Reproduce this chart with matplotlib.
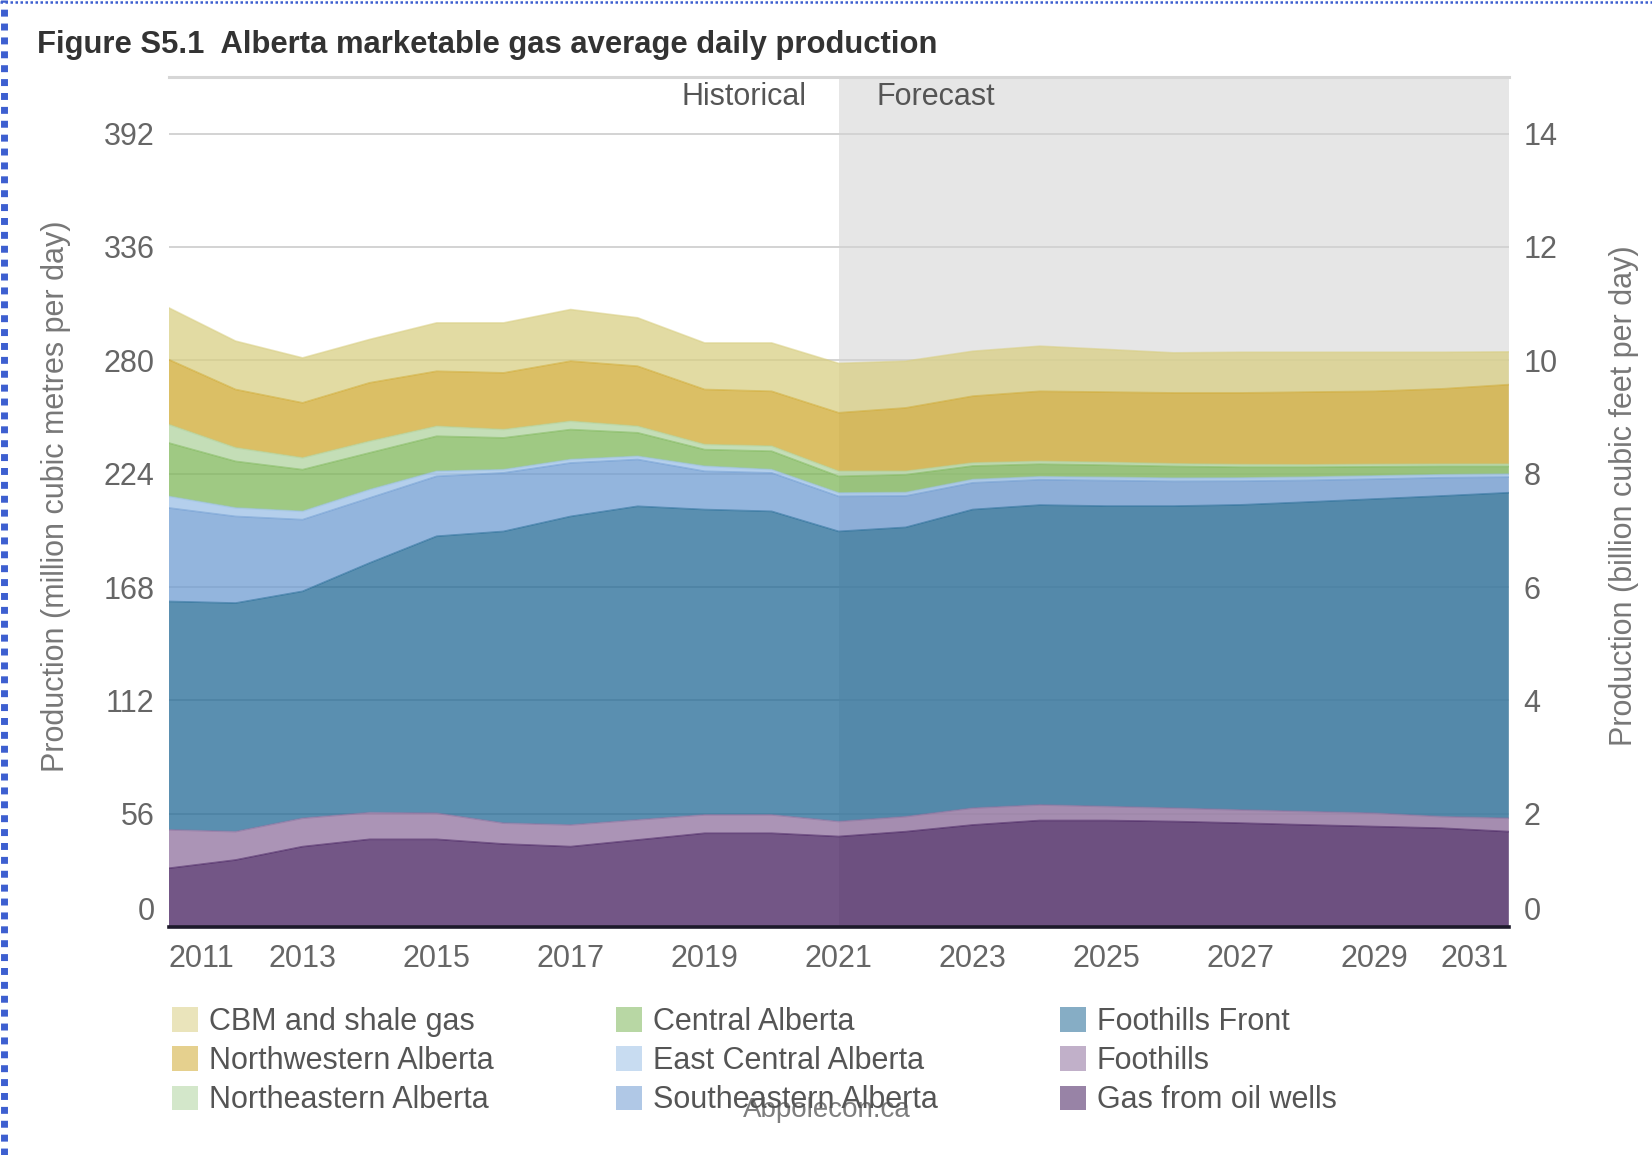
import matplotlib
matplotlib.use("Agg")
import matplotlib.pyplot as plt
import matplotlib.transforms as mtransforms
from matplotlib.lines import Line2D
from matplotlib.patches import Patch
import numpy as np

plt.rcParams['font.family'] = ['Liberation Sans', 'DejaVu Sans']

# ---------------- data (million m3/day) ----------------
years = list(range(2011, 2032))
forecast_start = 2021

gas_from_oil_wells = [29.1, 33.2, 39.8, 43.4, 43.4, 41.1, 39.8, 43.1, 46.4, 46.4, 44.8,
                      47.2, 50.5, 52.7, 52.7, 52.2, 51.4, 50.5, 49.7, 48.9, 47.2]
foothills = [19.0, 14.0, 14.0, 13.2, 12.9, 10.3, 10.7, 9.9, 9.1, 9.1, 7.4,
             7.4, 8.3, 7.7, 6.9, 6.6, 6.5, 6.6, 6.6, 5.7, 6.6]
foothills_front = [112.8, 112.9, 112.1, 123.3, 136.8, 144.1, 152.4, 154.9, 150.8, 149.9, 143.3,
                   142.9, 147.5, 148.1, 148.4, 149.2, 150.7, 152.9, 155.2, 158.4, 160.8]
southeastern = [46.2, 42.8, 35.4, 32.1, 29.6, 28.9, 26.4, 23.1, 18.9, 19.0, 17.3,
                15.5, 13.2, 12.5, 12.6, 12.2, 11.7, 10.7, 9.8, 9.0, 7.7]
east_central = [5.7, 4.2, 4.1, 4.1, 2.5, 1.6, 1.7, 1.6, 2.5, 1.6, 1.7,
                1.7, 1.6, 1.5, 1.6, 1.6, 1.6, 1.6, 1.6, 1.5, 1.5]
central = [26.4, 23.0, 20.6, 18.2, 17.3, 15.7, 14.8, 11.6, 8.2, 9.1, 8.2,
           8.8, 6.7, 6.2, 6.0, 5.8, 5.3, 4.9, 4.5, 4.1, 3.8]
northeastern = [9.1, 6.7, 5.8, 5.7, 4.9, 4.1, 4.1, 3.2, 2.5, 2.5, 2.5,
                1.7, 1.5, 1.4, 1.4, 1.3, 1.3, 1.2, 1.2, 1.1, 1.1]
northwestern = [32.1, 28.8, 27.2, 28.9, 27.2, 28.0, 29.7, 29.7, 27.2, 27.1, 28.9,
                31.3, 33.0, 34.6, 34.7, 35.0, 35.4, 35.9, 36.1, 37.2, 39.3]
cbm_shale = [25.6, 23.9, 22.2, 21.4, 23.9, 24.7, 25.5, 23.9, 23.0, 23.9, 24.4,
             23.1, 22.2, 22.3, 21.1, 19.8, 20.1, 19.7, 19.3, 18.1, 16.2]

series_names = ["Gas from oil wells", "Foothills", "Foothills Front", "Southeastern Alberta",
                "East Central Alberta", "Central Alberta", "Northeastern Alberta",
                "Northwestern Alberta", "CBM and shale gas"]
left_ticks = [0, 56, 112, 168, 224, 280, 336, 392]
right_ticks = [0, 2, 4, 6, 8, 10, 12, 14]
x_ticks = [2011, 2013, 2015, 2017, 2019, 2021, 2023, 2025, 2027, 2029, 2031]
legend_order = ["CBM and shale gas", "Northwestern Alberta", "Northeastern Alberta",
                "Central Alberta", "East Central Alberta", "Southeastern Alberta",
                "Foothills Front", "Foothills", "Gas from oil wells"]

colors = {
    "Gas from oil wells": "#441e5e",
    "Foothills": "#8f709e",
    "Foothills Front": "#236a96",
    "Southeastern Alberta": "#6f9cd2",
    "East Central Alberta": "#9bc0e6",
    "Central Alberta": "#7fb75a",
    "Northeastern Alberta": "#b0d49f",
    "Northwestern Alberta": "#d0aa32",
    "CBM and shale gas": "#d9cf84",
}

# ---------------- figure ----------------
W, H = 1652, 1155
fig = plt.figure(figsize=(W / 100, H / 100), dpi=100)
fig.patch.set_facecolor("white")
x0, x1, yb, yt = 168.6, 1508.8, 927.2, 76.9
ax = fig.add_axes([x0 / W, 1 - yb / H, (x1 - x0) / W, (yb - yt) / H])
ax.set_xlim(years[0], years[-1])
ax.set_ylim(0, 420)
ax.set_axisbelow(True)
for s in ax.spines.values():
    s.set_visible(False)

# forecast band
ax.axvspan(forecast_start, years[-1], color="#e6e6e6", lw=0, zorder=0)

# grid
ax.set_yticks(left_ticks)
ax.yaxis.grid(True, color="#d3d3d3", lw=1.4)
ax.xaxis.grid(False)
ax.axhline(420, color="#d6d6d6", lw=2.2, clip_on=False, zorder=0.6)

# stacked areas
stack = [gas_from_oil_wells, foothills, foothills_front, southeastern, east_central,
         central, northeastern, northwestern, cbm_shale]
cols = [colors[n] for n in series_names]
ax.stackplot(years, *stack, colors=cols, alpha=0.75, lw=0, zorder=1)
cum = np.cumsum(np.array(stack), axis=0)
for c, col in zip(cum, cols):
    ax.plot(years, c, color=col, lw=1.2, alpha=0.55, zorder=1.5)

ax.axhline(0, color="#1d1a2b", lw=2.6, clip_on=False, zorder=3)

# annotations Historical / Forecast
ax.annotate("Historical", xy=(forecast_start, 410), xytext=(-32, 0), textcoords="offset pixels",
            ha="right", va="center", fontsize=22, color="#555555")
ax.annotate("Forecast", xy=(forecast_start, 410), xytext=(38, 0), textcoords="offset pixels",
            ha="left", va="center", fontsize=22, color="#555555")

# y ticks
tick_color = "#666666"
ax.set_yticklabels([str(t) for t in left_ticks])
ax.tick_params(axis="y", length=0, pad=10, labelsize=22, labelcolor=tick_color)
ax2 = ax.twinx()
ax2.set_ylim(0, 15)
ax2.set_yticks(right_ticks)
ax2.set_yticklabels([str(t) for t in right_ticks])
ax2.tick_params(axis="y", length=0, pad=10.5, labelsize=22, labelcolor=tick_color)
for s in ax2.spines.values():
    s.set_visible(False)

shift = mtransforms.ScaledTranslation(0, 19 / 100, fig.dpi_scale_trans)
for a in (ax, ax2):
    lab = a.yaxis.get_major_ticks()[0].label1 if a is ax else a.yaxis.get_major_ticks()[0].label2
    lab.set_transform(lab.get_transform() + shift)

# x ticks
ax.set_xticks(x_ticks)
ax.set_xticklabels([str(t) for t in x_ticks])
ax.tick_params(axis="x", length=0, pad=12, labelsize=22, labelcolor=tick_color)
xl = ax.get_xticklabels()
xl[0].set_ha("left")
xl[-1].set_ha("right")

# axis titles
fig.text(56 / W, 1 - 496 / H, "Production (million cubic metres per day)", rotation=90,
         ha="center", va="center", fontsize=22, color="#777777")
fig.text(1624 / W, 1 - 496 / H, "Production (billion cubic feet per day)", rotation=90,
         ha="center", va="center", fontsize=22, color="#777777")

# title
fig.text(37 / W, 1 - 45 / H, "Figure S5.1  Alberta marketable gas average daily production",
         ha="left", va="center", fontsize=22.3, fontweight="bold", color="#333333")

# legend
handles = [Patch(facecolor=colors[n], alpha=0.55, edgecolor="none") for n in legend_order]
fig.legend(handles, legend_order, ncol=3, loc="upper left",
           bbox_to_anchor=(172 / W, 1 - 1007 / H), frameon=False, fontsize=22,
           handlelength=0.85, handleheight=0.85, handletextpad=0.36, columnspacing=4.0,
           labelspacing=0.3, borderpad=0, borderaxespad=0, labelcolor="#555555")

# watermark (overlaps the legend in the original as well)
fig.text(827 / W, 1 - 1110 / H, "Abpolecon.ca", ha="center", va="center",
         fontsize=20, color="#666666", alpha=0.85)

# dotted blue border
fig.add_artist(Line2D([4 / W, 4 / W], [0, 1], transform=fig.transFigure, color="#3d5fd0",
                      lw=5, linestyle=(0, (1, 1))))
fig.add_artist(Line2D([0, 1], [1 - 1.5 / H, 1 - 1.5 / H], transform=fig.transFigure,
                      color="#3d5fd0", lw=1.8, linestyle=(0, (1, 1))))

fig.savefig("out.png", dpi=100)
